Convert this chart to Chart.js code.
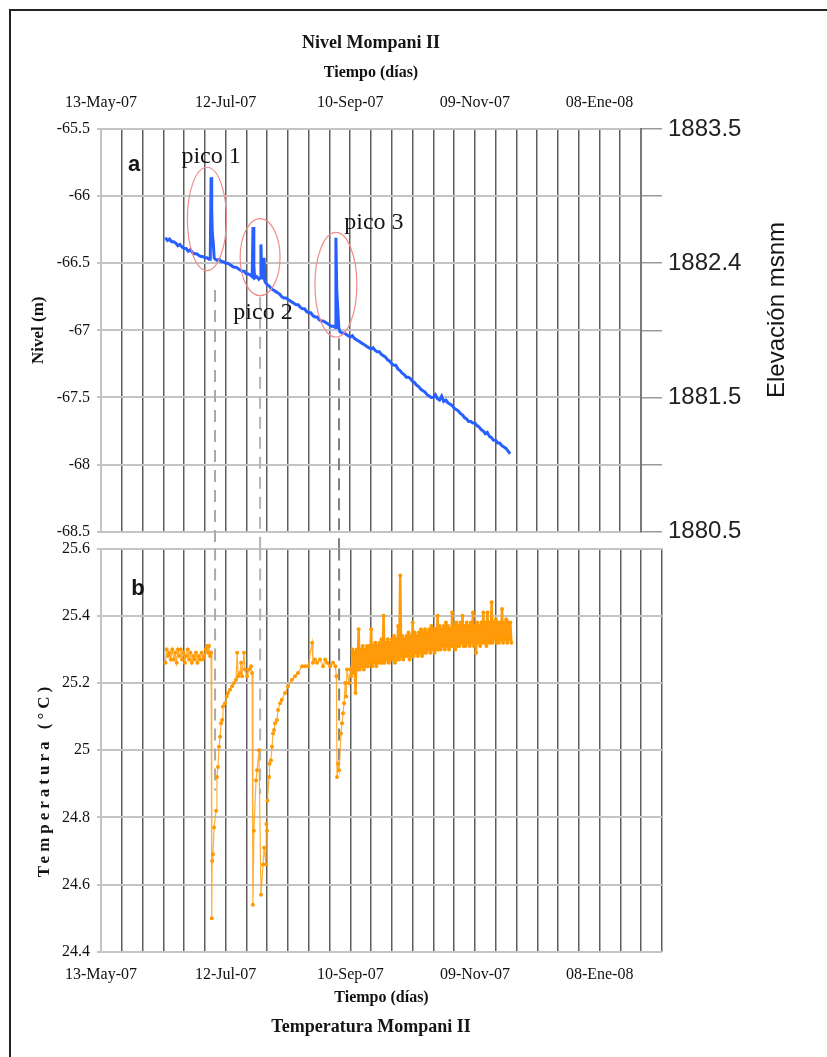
<!DOCTYPE html>
<html>
<head>
<meta charset="utf-8">
<script src="https://cdn.jsdelivr.net/npm/chart.js@4.4.1/dist/chart.umd.min.js"></script>
<style>
  html, body { margin: 0; padding: 0; background: #fff; }
  #page { position: relative; width: 827px; height: 1057px; overflow: hidden; }
  #marco { position: absolute; left: 9px; top: 9px; right: -10px; bottom: -10px;
           border-left: 2px solid #222; border-top: 2px solid #222; }
  canvas { position: absolute; left: 0; }
  #nivel { top: 0; }
  #temp { top: 532px; }
</style>
</head>
<body>
<div id="page">
  <div id="marco"></div>
  <canvas id="nivel" width="827" height="552"></canvas>
  <canvas id="temp" width="827" height="525"></canvas>
</div>
<script>
const SERIF = "'Liberation Serif', 'Times New Roman', serif";
const SANS = "'Liberation Sans', Arial, sans-serif";

// eje de tiempo: días desde 13-May-07
const fechaDias = [0, 60, 120, 180, 240];
const fechaEtiquetas = ["13-May-07", "12-Jul-07", "10-Sep-07", "09-Nov-07", "08-Ene-08"];

// eje derecho (elevación msnm) frente al nivel
const elevNivel = [-68.5, -67.5, -66.5, -65.5];
const elevEtiquetas = ["1880.5", "1881.5", "1882.4", "1883.5"];

// nivel (m)
const nivelDias = [
  31, 32, 33, 34, 35, 36, 37, 38, 39, 40, 41, 42, 43, 44, 45, 46, 47, 48, 49, 50,
  51, 52, 52.6, 53, 53.3, 53.6, 54, 54.5, 55, 56, 57, 58, 59, 60, 61, 62, 63, 64, 65, 66,
  67, 68, 69, 70, 71, 72, 72.8, 73.2, 73.6, 74, 75, 76, 76.6, 77, 77.4, 78, 78.5, 79, 80, 81,
  82, 83, 84, 85, 86, 87, 88, 89, 90, 91, 92, 93, 94, 95, 96, 97, 98, 99, 100, 101,
  102, 103, 104, 105, 106, 107, 108, 109, 110, 111, 112, 112.8, 113.1, 113.5, 114, 114.5, 115, 116, 117, 118,
  119, 120, 121, 122, 123, 124, 125, 126, 127, 128, 129, 130, 131, 132, 133, 134, 135, 136, 137, 138,
  139, 140, 141, 142, 143, 144, 145, 146, 147, 148, 149, 150, 151, 152, 153, 154, 155, 156, 157, 158,
  159, 160, 161, 162, 163, 164, 165, 166, 167, 168, 169, 170, 171, 172, 173, 174, 175, 176, 177, 178,
  179, 180, 181, 182, 183, 184, 185, 186, 187, 188, 189, 190, 191, 192, 193, 194, 195, 196, 197
];
const nivelValores = [
  -66.31, -66.33, -66.32, -66.34, -66.34, -66.35, -66.37, -66.36, -66.38, -66.39, -66.39, -66.41, -66.40, -66.42, -66.43, -66.43, -66.44, -66.45, -66.45, -66.46,
  -66.46, -66.47, -66.47, -65.86, -66.10, -66.28, -66.34, -66.46, -66.47, -66.48, -66.47, -66.49, -66.49, -66.50, -66.50, -66.51, -66.52, -66.53, -66.53, -66.54,
  -66.55, -66.56, -66.56, -66.58, -66.58, -66.59, -66.60, -66.23, -66.52, -66.61, -66.60, -66.62, -66.61, -66.36, -66.58, -66.60, -66.46, -66.64, -66.66, -66.67,
  -66.69, -66.70, -66.71, -66.72, -66.73, -66.75, -66.76, -66.76, -66.77, -66.78, -66.79, -66.80, -66.81, -66.81, -66.83, -66.84, -66.84, -66.86, -66.87, -66.87,
  -66.89, -66.90, -66.90, -66.92, -66.93, -66.93, -66.94, -66.95, -66.96, -66.97, -66.97, -66.98, -66.31, -66.70, -66.84, -66.98, -67.01, -67.02, -67.02, -67.03,
  -67.04, -67.05, -67.04, -67.06, -67.07, -67.08, -67.09, -67.10, -67.11, -67.12, -67.13, -67.14, -67.13, -67.15, -67.16, -67.16, -67.18, -67.19, -67.20, -67.22,
  -67.23, -67.25, -67.26, -67.26, -67.29, -67.30, -67.32, -67.33, -67.35, -67.35, -67.36, -67.38, -67.39, -67.41, -67.42, -67.44, -67.45, -67.46, -67.48, -67.49,
  -67.50, -67.50, -67.48, -67.51, -67.52, -67.49, -67.53, -67.52, -67.54, -67.55, -67.56, -67.58, -67.59, -67.60, -67.62, -67.63, -67.65, -67.66, -67.68, -67.68,
  -67.69, -67.69, -67.71, -67.72, -67.74, -67.75, -67.77, -67.76, -67.79, -67.80, -67.82, -67.82, -67.84, -67.84, -67.86, -67.87, -67.88, -67.90, -67.92
];

// temperatura (°C), tramos con descensos
const tempDias = [
  31.0, 31.6, 32.3, 33.0, 33.6, 34.3, 35.0, 35.7, 36.4, 37.0, 37.7, 38.4, 39.0, 39.7, 40.4, 41.0, 41.7, 42.4, 43.0, 43.7,
  44.4, 45.0, 45.7, 46.4, 47.0, 47.7, 48.4, 49.0, 49.7, 50.4, 51.0, 51.5, 52.0, 52.5, 53.0,
  53.3, 53.5, 53.9, 54.4, 55.4, 55.8, 56.3, 56.8, 57.3, 57.8, 58.3, 58.7, 59.7, 60.5, 61.1, 62.1, 63.1, 64.0, 65.0, 65.5,
  66.0, 66.9, 67.4, 67.9, 68.8, 69.3, 70.3, 71.3, 72.2, 72.7,
  73.1, 73.6, 74.6, 75.1, 76.0, 77.0, 78.0, 78.5, 79.4, 79.6, 79.9, 80.1, 80.9, 81.1, 81.8, 82.3, 82.8, 83.3, 83.8, 84.7,
  85.2, 86.2, 87.0, 88.6, 90.0, 91.9, 93.4, 94.8, 96.8, 98.2, 99.7, 101.6, 102.0, 103.0, 104.0, 105.4, 106.9, 107.9, 108.8, 110.3,
  111.7, 112.8, 113.3,
  113.6, 114.1, 114.6, 115.5, 116.0, 116.5, 117.0, 117.5, 118.0, 118.4, 119.4, 120.0, 120.4, 121.0
];
const tempValores = [
  25.26, 25.30, 25.28, 25.29, 25.27, 25.30, 25.27, 25.29, 25.26, 25.30, 25.28, 25.30, 25.27, 25.29, 25.26, 25.28, 25.30, 25.27, 25.29, 25.26,
  25.28, 25.27, 25.29, 25.26, 25.28, 25.27, 25.29, 25.27, 25.28, 25.30, 25.31, 25.29, 25.31, 25.28, 25.29,
  24.50, 24.67, 24.69, 24.77, 24.82, 24.92, 24.95, 25.01, 25.04, 25.08, 25.09, 25.13, 25.14, 25.16, 25.17, 25.18, 25.19, 25.20, 25.21, 25.29,
  25.22, 25.23, 25.26, 25.22, 25.29, 25.24, 25.22, 25.24, 25.25, 25.23,
  24.54, 24.76, 24.91, 24.94, 25.00, 24.57, 24.66, 24.71, 24.66, 24.78, 24.76, 24.85, 24.92, 24.96, 24.97, 25.01, 25.05, 25.06, 25.08, 25.09,
  25.12, 25.14, 25.15, 25.17, 25.19, 25.21, 25.22, 25.23, 25.25, 25.25, 25.25, 25.32, 25.26, 25.27, 25.26, 25.27, 25.25, 25.27, 25.26, 25.25,
  25.26, 25.25, 25.22,
  24.92, 24.96, 24.94, 25.05, 25.08, 25.11, 25.14, 25.20, 25.16, 25.24, 25.20, 25.24, 25.22, 25.28
];

// registro denso desde el día 121, cada medio día (máx / mín alternados)
const bandaInicio = 121;
const bandaPaso = 0.5;
const bandaValores = [
  25.30, 25.23, 25.29, 25.17, 25.30, 25.24, 25.36, 25.24, 25.30, 25.25, 25.31, 25.24, 25.30, 25.25, 25.31, 25.25, 25.31, 25.26, 25.36, 25.25,
  25.31, 25.26, 25.32, 25.25, 25.31, 25.26, 25.32, 25.26, 25.33, 25.26, 25.40, 25.26, 25.32, 25.27, 25.33, 25.26, 25.32, 25.27, 25.33, 25.27,
  25.34, 25.26, 25.33, 25.27, 25.37, 25.27, 25.52, 25.28, 25.34, 25.27, 25.33, 25.28, 25.34, 25.28, 25.35, 25.27, 25.34, 25.28, 25.38, 25.28,
  25.35, 25.29, 25.34, 25.28, 25.35, 25.29, 25.36, 25.28, 25.35, 25.29, 25.36, 25.29, 25.35, 25.30, 25.36, 25.29, 25.37, 25.30, 25.36, 25.29,
  25.36, 25.30, 25.40, 25.30, 25.37, 25.30, 25.36, 25.31, 25.37, 25.30, 25.38, 25.31, 25.37, 25.30, 25.36, 25.31, 25.41, 25.31, 25.37, 25.30,
  25.38, 25.31, 25.37, 25.31, 25.38, 25.32, 25.40, 25.31, 25.37, 25.31, 25.38, 25.32, 25.37, 25.31, 25.38, 25.32, 25.41, 25.31, 25.37, 25.29,
  25.38, 25.32, 25.37, 25.31, 25.38, 25.32, 25.41, 25.32, 25.38, 25.31, 25.41, 25.32, 25.38, 25.32, 25.44, 25.32, 25.38, 25.33, 25.39, 25.32,
  25.38, 25.32, 25.38, 25.33, 25.42, 25.32, 25.38, 25.33, 25.39, 25.32, 25.38, 25.33, 25.38, 25.32
];

function etiquetaFecha(v) {
  const i = fechaDias.indexOf(v);
  return i >= 0 ? fechaEtiquetas[i] : '';
}
function etiquetaElev(v) {
  const i = elevNivel.findIndex(n => Math.abs(n - v) < 1e-6);
  return i >= 0 ? elevEtiquetas[i] : '';
}
const unDecimal = v => String(Math.round(v * 10) / 10);

// líneas discontinuas que unen los picos con los descensos de temperatura
const guiasPlugin = {
  id: 'guias',
  beforeDatasetsDraw(chart, args, opts) {
    const { ctx, chartArea, scales: { x, y } } = chart;
    ctx.save();
    ctx.setLineDash([12, 8]);
    ctx.lineWidth = 2;
    opts.lineas.forEach(l => {
      const px = x.getPixelForValue(l.dia);
      const y0 = l.desde == null ? chartArea.top : y.getPixelForValue(l.desde);
      const y1 = l.hasta == null ? chartArea.bottom + 18 : y.getPixelForValue(l.hasta);
      ctx.strokeStyle = l.color;
      ctx.beginPath();
      ctx.moveTo(px, y0);
      ctx.lineTo(px, y1);
      ctx.stroke();
    });
    ctx.restore();
  }
};

// elipses y rótulos sueltos
const textosPlugin = {
  id: 'textos',
  afterDatasetsDraw(chart, args, opts) {
    const { ctx, scales: { x, y } } = chart;
    ctx.save();
    (opts.elipses || []).forEach(e => {
      const cx = x.getPixelForValue(e.dia), cy = y.getPixelForValue(e.valor);
      const rx = x.getPixelForValue(e.dia + e.rDia) - cx;
      const ry = y.getPixelForValue(e.valor - e.rValor) - cy;
      ctx.beginPath();
      ctx.ellipse(cx, cy, rx, ry, 0, 0, Math.PI * 2);
      ctx.strokeStyle = '#f08c8c';
      ctx.lineWidth = 1.2;
      ctx.stroke();
    });
    (opts.textos || []).forEach(t => {
      const px = t.px != null ? t.px : x.getPixelForValue(t.dia);
      const py = t.py != null ? t.py : y.getPixelForValue(t.valor);
      ctx.save();
      ctx.font = t.font;
      ctx.fillStyle = '#151515';
      ctx.textAlign = 'center';
      ctx.textBaseline = 'middle';
      if (t.espacio) ctx.letterSpacing = t.espacio;
      ctx.translate(px, py);
      if (t.rot) ctx.rotate(t.rot * Math.PI / 180);
      ctx.fillText(t.texto, 0, 0);
      ctx.restore();
    });
    ctx.restore();
  }
};

Chart.defaults.color = '#111';

const gridX = {
  color: c => c.index === 0 ? '#c8c8c8' : '#5e5e5e',
  lineWidth: 1.5,
  drawTicks: false
};

new Chart(document.getElementById('nivel'), {
  type: 'line',
  data: {
    datasets: [{
      data: nivelDias.map((d, i) => ({ x: d, y: nivelValores[i] })),
      borderColor: '#2760ff',
      borderWidth: 3,
      pointRadius: 0,
      tension: 0
    }]
  },
  options: {
    responsive: false,
    animation: false,
    devicePixelRatio: 1,
    layout: { padding: { top: 53.6, left: 0, right: 0, bottom: 0 } },
    plugins: {
      legend: { display: false },
      tooltip: { enabled: false },
      guias: {
        lineas: [
          { dia: 54.9, desde: -66.70, color: '#aaaaaa' },
          { dia: 76.6, desde: -66.75, color: '#b4b4b4' },
          { dia: 114.6, desde: -67.06, color: '#808080' }
        ]
      },
      textos: {
        elipses: [
          { dia: 51.0, valor: -66.17, rDia: 9.4, rValor: 0.385 },
          { dia: 76.6, valor: -66.455, rDia: 9.6, rValor: 0.287 },
          { dia: 113.1, valor: -66.66, rDia: 10.1, rValor: 0.39 }
        ],
        textos: [
          { texto: 'Nivel Mompani II', px: 371, py: 43, font: `bold 18px ${SERIF}` },
          { texto: 'a', dia: 15.9, valor: -65.77, font: `bold 22px ${SANS}` },
          { texto: 'pico 1', dia: 53.0, valor: -65.71, font: `24px ${SERIF}` },
          { texto: 'pico 2', dia: 78.0, valor: -66.87, font: `24px ${SERIF}` },
          { texto: 'pico 3', dia: 131.4, valor: -66.20, font: `24px ${SERIF}` },
          { texto: 'Elevación msnm', px: 777, py: 310, rot: -90, font: `24px ${SANS}` }
        ]
      }
    },
    scales: {
      x: {
        type: 'linear', position: 'top', min: 0, max: 260,
        afterFit: s => { s.height = 75.4; },
        title: {
          display: true, text: 'Tiempo (días)',
          font: { family: SERIF, size: 16, weight: 'bold' },
          padding: { top: 10, bottom: 0 }
        },
        ticks: {
          stepSize: 10, autoSkip: false, maxRotation: 0, padding: 17,
          font: { family: SERIF, size: 16 }, callback: etiquetaFecha
        },
        grid: gridX,
        border: { display: false }
      },
      y: {
        position: 'left', min: -68.5, max: -65.5,
        afterFit: s => { s.width = 101; },
        title: {
          display: true, text: 'Nivel (m)',
          font: { family: SERIF, size: 17, weight: 'bold' },
          padding: { top: 28, bottom: 0 }
        },
        ticks: { stepSize: 0.5, padding: 7, font: { family: SERIF, size: 16 }, callback: unDecimal },
        grid: { color: '#c4c4c4', lineWidth: 2, tickLength: 4 },
        border: { color: '#c4c4c4', width: 2 }
      },
      y2: {
        position: 'right', min: -68.5, max: -65.5,
        afterFit: s => { s.width = 186; },
        ticks: { stepSize: 0.5, padding: 6, color: '#222', font: { family: SANS, size: 24 }, callback: etiquetaElev },
        grid: { drawOnChartArea: false, color: '#9a9a9a', lineWidth: 1.5, tickLength: 21 },
        border: { color: '#7a7a7a', width: 2 }
      }
    }
  },
  plugins: [guiasPlugin, textosPlugin]
});

new Chart(document.getElementById('temp'), {
  type: 'line',
  data: {
    datasets: [{
      data: tempDias.map((d, i) => ({ x: d, y: tempValores[i] })),
      borderColor: 'rgba(255, 160, 20, 0.85)',
      borderWidth: 1.2,
      pointRadius: 2,
      pointBorderWidth: 0,
      pointBackgroundColor: '#ff9900',
      tension: 0
    }, {
      data: bandaValores.map((v, i) => ({ x: bandaInicio + i * bandaPaso, y: v })),
      borderColor: '#ff9a0a',
      borderWidth: 2.5,
      pointRadius: 2,
      pointBorderWidth: 0,
      pointBackgroundColor: '#ff9900',
      tension: 0
    }]
  },
  options: {
    responsive: false,
    animation: false,
    devicePixelRatio: 1,
    layout: { padding: { top: 0, left: 0, right: 165, bottom: 40.8 } },
    plugins: {
      legend: { display: false },
      tooltip: { enabled: false },
      guias: {
        lineas: [
          { dia: 54.9, hasta: 24.88, color: '#aaaaaa' },
          { dia: 76.6, hasta: 24.87, color: '#b4b4b4' },
          { dia: 114.6, hasta: 24.97, color: '#808080' }
        ]
      },
      textos: {
        textos: [
          { texto: 'b', dia: 17.8, valor: 25.48, font: `bold 22px ${SANS}` },
          { texto: 'Temperatura (°C)', px: 45, py: 248, rot: -90, espacio: '4px', font: `bold 17px ${SERIF}` },
          { texto: 'Temperatura Mompani II', px: 371, py: 495, font: `bold 18px ${SERIF}` }
        ]
      }
    },
    scales: {
      x: {
        type: 'linear', position: 'bottom', min: 0, max: 270,
        afterFit: s => { s.height = 64.4; },
        title: {
          display: true, text: 'Tiempo (días)',
          font: { family: SERIF, size: 16, weight: 'bold' },
          padding: { top: 0, bottom: 9 }
        },
        ticks: {
          stepSize: 10, autoSkip: false, maxRotation: 0, padding: 13,
          font: { family: SERIF, size: 16 }, callback: etiquetaFecha
        },
        grid: gridX,
        border: { display: false }
      },
      y: {
        position: 'left', min: 24.4, max: 25.6,
        afterFit: s => { s.width = 101; },
        ticks: { stepSize: 0.2, padding: 7, font: { family: SERIF, size: 16 }, callback: unDecimal },
        grid: { color: '#c4c4c4', lineWidth: 2, tickLength: 4 },
        border: { color: '#c4c4c4', width: 2 }
      }
    }
  },
  plugins: [guiasPlugin, textosPlugin]
});
</script>
</body>
</html>
